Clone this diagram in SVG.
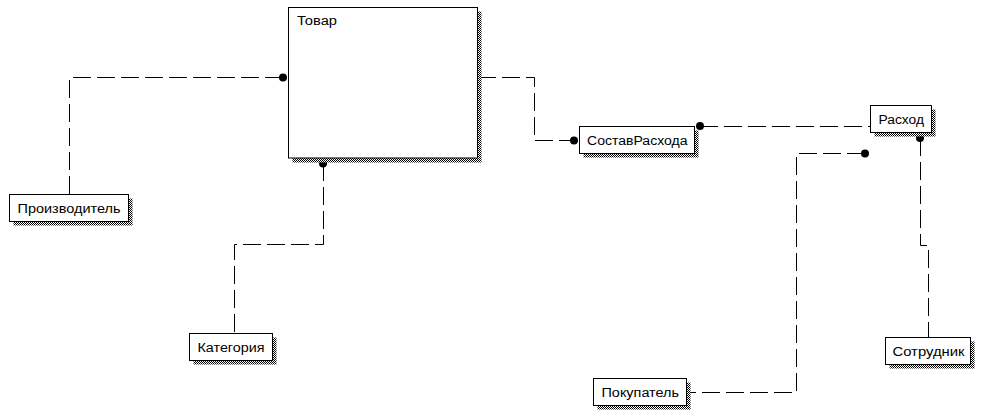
<svg xmlns="http://www.w3.org/2000/svg" width="990" height="416" viewBox="0 0 990 416">
<style>
.box{fill:#fff;stroke:#000;stroke-width:1}
.sh{fill:url(#dither);stroke:none}
.lbl{font-family:"Liberation Sans",Arial,sans-serif;font-size:12px;fill:#000}
.conn{fill:none;stroke:#000;stroke-width:1;stroke-dasharray:18 6}
.dot{fill:#000}
</style>
<defs>
<pattern id="dither" width="2" height="2" patternUnits="userSpaceOnUse">
<rect width="2" height="2" fill="#fff"/>
<rect width="1" height="1" fill="#000"/>
<rect x="1" y="1" width="1" height="1" fill="#000"/>
</pattern>
</defs>
<rect width="990" height="416" fill="#fff"/>
<g id="connectors">
<polyline class="conn" points="283,77.5 69.5,77.5 69.5,194.5"/>
<polyline class="conn" points="323.5,163 323.5,244.5 234.5,244.5 234.5,333.5"/>
<polyline class="conn" points="478,77.5 534.5,77.5 534.5,140.5 574,140.5"/>
<polyline class="conn" points="700,126.5 870.5,126.5"/>
<polyline class="conn" points="920.5,138 920.5,245.5 928.5,245.5 928.5,337.5"/>
<polyline class="conn" points="865,153.5 796.5,153.5 796.5,392.5 687,392.5"/>
<circle class="dot" cx="283" cy="77.5" r="4"/>
<circle class="dot" cx="323" cy="163.5" r="4"/>
<circle class="dot" cx="574" cy="140.5" r="4"/>
<circle class="dot" cx="700" cy="126" r="4"/>
<circle class="dot" cx="920" cy="138" r="4"/>
<circle class="dot" cx="865" cy="153.5" r="4"/>
</g>
<g id="tovar">
<rect class="sh" x="292.5" y="11.5" width="189" height="151"/>
<rect class="box" x="288.5" y="7.5" width="189" height="150.5"/>
<text class="lbl" x="297" y="25" textLength="40" lengthAdjust="spacingAndGlyphs">Товар</text>
</g>
<g id="proizvoditel">
<rect class="sh" x="13.5" y="198.5" width="119" height="27"/>
<rect class="box" x="9.5" y="194.5" width="119" height="27"/>
<text class="lbl" x="17.5" y="213" textLength="103" lengthAdjust="spacingAndGlyphs">Производитель</text>
</g>
<g id="kategoriya">
<rect class="sh" x="193.5" y="337.5" width="83" height="27"/>
<rect class="box" x="189.5" y="333.5" width="83" height="27"/>
<text class="lbl" x="197.5" y="352" textLength="67" lengthAdjust="spacingAndGlyphs">Категория</text>
</g>
<g id="sostavrashoda">
<rect class="sh" x="583.5" y="130.5" width="115" height="27"/>
<rect class="box" x="579.5" y="126.5" width="115" height="27"/>
<text class="lbl" x="587" y="145" textLength="100.5" lengthAdjust="spacingAndGlyphs">СоставРасхода</text>
</g>
<g id="rashod">
<rect class="sh" x="874.5" y="109.5" width="61" height="27"/>
<rect class="box" x="870.5" y="105.5" width="61" height="27"/>
<text class="lbl" x="878.5" y="124" textLength="45.5" lengthAdjust="spacingAndGlyphs">Расход</text>
</g>
<g id="pokupatel">
<rect class="sh" x="597.5" y="382.5" width="93" height="27"/>
<rect class="box" x="593.5" y="378.5" width="93" height="27"/>
<text class="lbl" x="601.5" y="397" textLength="77.5" lengthAdjust="spacingAndGlyphs">Покупатель</text>
</g>
<g id="sotrudnik">
<rect class="sh" x="889.5" y="341.5" width="85" height="27"/>
<rect class="box" x="885.5" y="337.5" width="85" height="27"/>
<text class="lbl" x="892.5" y="356" textLength="72" lengthAdjust="spacingAndGlyphs">Сотрудник</text>
</g>
</svg>
